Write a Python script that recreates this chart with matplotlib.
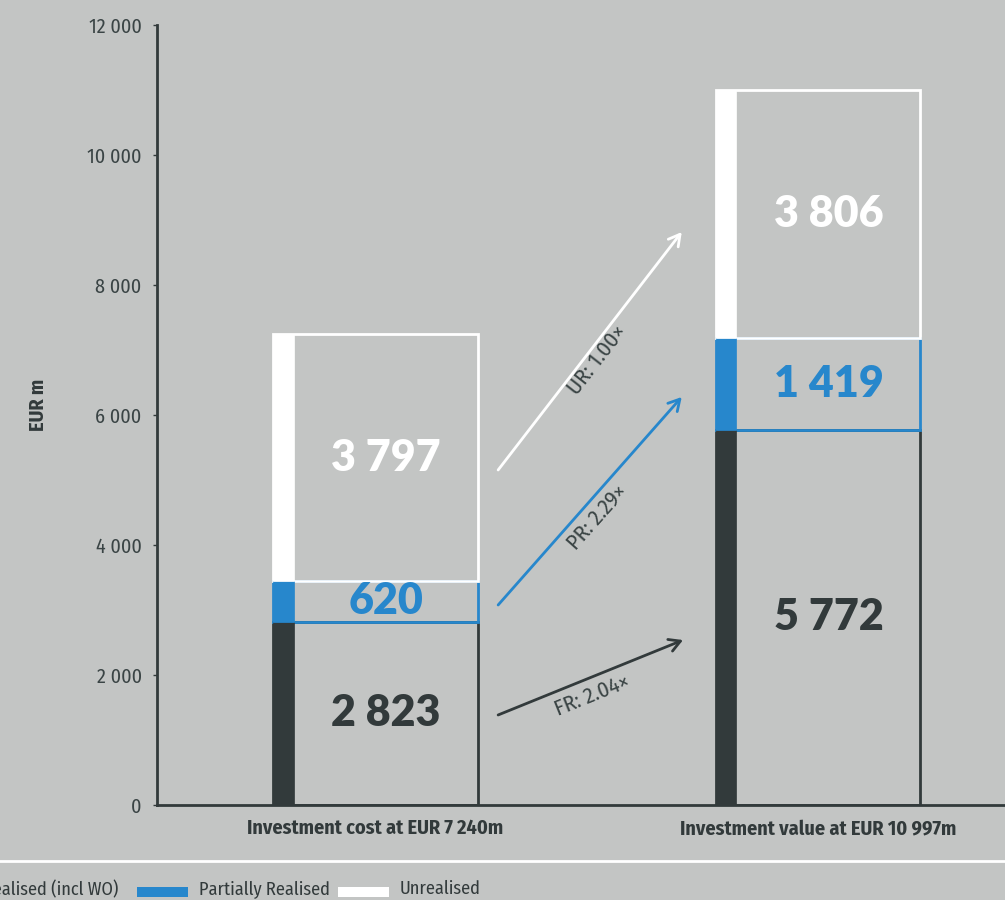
import matplotlib.pyplot as plt
from matplotlib.patches import Rectangle

# values (EUR m)
bars = ["Investment cost at EUR 7 240m", "Investment value at EUR 10 997m"]
fully = [2823, 5772]
partial = [620, 1419]
unreal = [3797, 3806]
series = ["Fully Realised (incl WO)", "Partially Realised", "Unrealised"]
multiples = ["FR: 2.04\u00d7", "PR: 2.29\u00d7", "UR: 1.00\u00d7"]

bg = "#c3c5c4"
dark = "#323a3b"
blue = "#2787cc"
white = "#ffffff"
colors = [dark, blue, white]

cond = ["Fira Sans Condensed", "DejaVu Sans"]

fig = plt.figure(figsize=(10.05, 9), dpi=100, facecolor=bg)
ax = fig.add_axes([157 / 1005, 95 / 900, 1 - 157 / 1005, 780 / 900])
ax.set_facecolor(bg)

width = 0.463
strip = 0.047
for i in range(2):
    bottom = 0
    for vals, c in zip([fully, partial, unreal], colors):
        v = vals[i]
        x0 = i - width / 2
        ax.add_patch(Rectangle((x0, bottom), width, v, facecolor="none",
                               edgecolor=c, lw=2, zorder=3))
        ax.add_patch(Rectangle((x0, bottom), strip, v, facecolor=c,
                               edgecolor=c, lw=0.5, zorder=4))
        ax.text(i + strip / 2, bottom + v / 2, f"{v:,}".replace(",", " "),
                ha="center", va="center", color=c, fontsize=31,
                fontfamily=["Lato", "DejaVu Sans"], fontweight="heavy",
                zorder=5)
        bottom += v

# arrows between the bars
arrows = [
    (0.277, 1385, 0.695, 2538, dark, 0.49, 1692, 22),
    (0.277, 3077, 0.692, 6277, blue, 0.501, 4431, 48.5),
    (0.277, 5154, 0.692, 8815, white, 0.50, 6846, 52),
]
for (x1, y1, x2, y2, c, tx, ty, rot), lab in zip(arrows, multiples):
    ax.annotate("", xy=(x2, y2), xytext=(x1, y1),
                arrowprops=dict(arrowstyle="->,head_length=0.8,head_width=0.45",
                                color=c, lw=2, shrinkA=0, shrinkB=0))
    ax.text(tx, ty, lab, rotation=rot, rotation_mode="anchor", ha="center",
            va="center", color="#3a4445", fontsize=16, fontfamily=cond)

ax.set_xlim(-0.494, 1.4226)
ax.set_ylim(0, 12000)
ax.set_yticks(range(0, 12001, 2000))
ax.set_yticklabels([f"{t:,}".replace(",", " ") for t in range(0, 12001, 2000)],
                   fontfamily=cond, fontsize=14.5, color="#3a4445")
ax.tick_params(axis="y", length=3, width=1, color=dark, pad=8)
ax.set_xticks([0, 1])
ax.set_xticklabels(bars, fontfamily=cond, fontweight="bold", fontsize=14.5,
                   color=dark)
ax.tick_params(axis="x", length=0, pad=10)
for s in ["top", "right"]:
    ax.spines[s].set_visible(False)
for s in ["left", "bottom"]:
    ax.spines[s].set_color(dark)
    ax.spines[s].set_linewidth(2)

fig.text(38 / 1005, 1 - 405 / 900, "EUR m", rotation=90, ha="center",
         va="center", fontfamily=cond, fontweight="bold", fontsize=14.5,
         color=dark)

# legend strip at the bottom
fig.add_artist(plt.Line2D([0, 1], [1 - 861 / 900] * 2, color=white, lw=2,
                          transform=fig.transFigure))
leg_x = [-110, 137, 338]
for x, c in zip(leg_x, colors):
    fig.add_artist(Rectangle((x / 1005, 1 - 897 / 900), 51 / 1005, 10 / 900,
                             facecolor=c, edgecolor="none",
                             transform=fig.transFigure))
for x, name, ha in zip([118, 199, 400], series, ["right", "left", "left"]):
    fig.text(x / 1005, 1 - 889 / 900, name, ha=ha, va="center",
             fontfamily=cond, fontsize=13.2, color=dark)

fig.savefig("out.png", dpi=100, facecolor=bg)
